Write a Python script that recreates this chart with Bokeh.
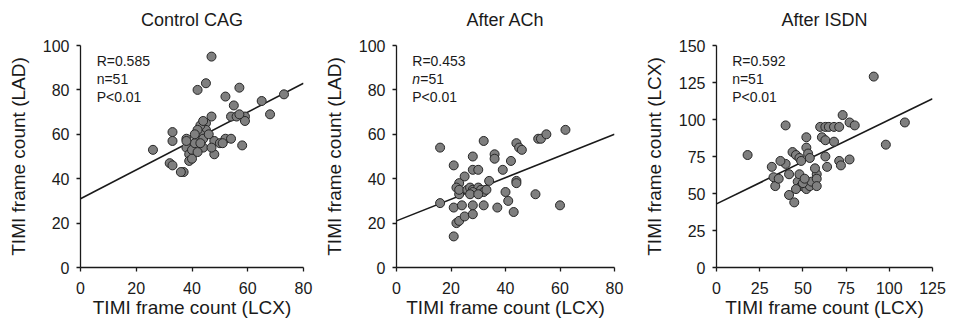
from bokeh.plotting import figure
from bokeh.layouts import row
from bokeh.models import Range1d, FixedTicker, ColumnDataSource, Title
from bokeh.core.properties import value
from bokeh.embed import file_html
from bokeh.resources import INLINE

# ---------------- data ----------------
titles = ["Control CAG", "After ACh", "After ISDN"]
x_label = "TIMI frame count (LCX)"
y_labels = ["TIMI frame count (LAD)", "TIMI frame count (LAD)", "TIMI frame count (LCX)"]

x_max = [80, 80, 125]
y_max = [100, 100, 150]
x_ticks = [[0, 20, 40, 60, 80], [0, 20, 40, 60, 80], [0, 25, 50, 75, 100, 125]]
y_ticks = [[0, 20, 40, 60, 80, 100], [0, 20, 40, 60, 80, 100], [0, 25, 50, 75, 100, 125, 150]]

r_text = ["R=0.585", "R=0.453", "R=0.592"]
n_text = ["n=51", "n=51", "n=51"]
p_text = ["P<0.01", "P<0.01", "P<0.01"]

# regression line: value at x=0 and at x=x_max
fit_start = [31, 21, 43]
fit_end = [83, 60, 114]

cag_x = [26, 47, 42, 45, 57, 52, 65, 73, 68, 55, 47, 54, 56, 59, 59, 33, 33, 32, 33, 37,
         48, 58, 52, 54, 48, 50, 51, 45, 45, 43, 43, 44, 42, 38, 38, 39, 39, 40, 41, 44,
         47, 38, 36, 42, 44, 40, 46, 42, 57, 41, 43]
cag_y = [53, 95, 80, 83, 81, 77, 75, 78, 69, 73, 68, 68, 68, 68, 66, 61, 57, 47, 46, 43,
         51, 55, 58, 58, 57, 56, 56, 65, 62, 60, 64, 54, 57, 58, 54, 51, 48, 53, 56, 58,
         54, 57, 43, 62, 66, 49, 60, 52, 69, 60, 56]

ach_x = [16, 16, 21, 21, 21, 22, 23, 25, 24, 25, 23, 22, 23, 23, 28, 28, 30, 28, 28, 32,
         32, 34, 36, 36, 37, 39, 40, 41, 42, 43, 44, 44, 44, 45, 46, 51, 52, 53, 55, 60,
         62, 26, 27, 28, 30, 31, 32, 33, 28, 27, 30]
ach_y = [54, 29, 46, 27, 14, 20, 21, 23, 28, 41, 38, 36, 33, 35, 50, 44, 44, 28, 24, 57,
         28, 39, 51, 49, 27, 44, 34, 30, 48, 25, 39, 38, 56, 54, 53, 33, 58, 58, 60, 28,
         62, 35, 36, 35, 36, 35, 34, 35, 34, 33, 33]

isdn_x = [18, 40, 91, 109, 98, 73, 77, 80, 60, 63, 65, 68, 71, 61, 63, 68, 63, 64, 71, 72,
          77, 52, 52, 53, 54, 44, 46, 48, 49, 40, 37, 32, 33, 34, 36, 42, 42, 45, 47, 49,
          52, 54, 50, 55, 58, 57, 58, 58, 48, 46, 51]
isdn_y = [76, 96, 129, 98, 83, 103, 98, 96, 95, 95, 95, 95, 95, 88, 86, 85, 75, 68, 72, 69,
          73, 88, 81, 77, 74, 78, 76, 74, 72, 70, 72, 68, 61, 55, 60, 63, 49, 44, 58, 55,
          53, 55, 57, 58, 63, 67, 60, 55, 63, 53, 60]

series_x = [cag_x, ach_x, isdn_x]
series_y = [cag_y, ach_y, isdn_y]

# ---------------- layout / style ----------------
FONT = "Liberation Sans"
INK = "#1a1a1a"
widths = [320, 320, 321]
border_left = [80, 76, 71]
border_right = [17, 26, 29]
border_top = [45, 44, 43]
border_bottom = [61, 62, 62]
italic_n = [False, True, False]


def panel(i):
    p = figure(width=widths[i], height=329, output_backend="svg", toolbar_location=None,
               x_range=Range1d(0, x_max[i]), y_range=Range1d(0, y_max[i]),
               min_border_left=border_left[i], min_border_right=border_right[i],
               min_border_top=border_top[i], min_border_bottom=border_bottom[i],
               title=titles[i])
    p.outline_line_color = None
    p.grid.visible = False
    p.background_fill_color = "white"
    p.border_fill_color = "white"

    p.title.text_font = FONT
    p.title.text_font_size = "18px"
    p.title.text_font_style = "normal"
    p.title.text_color = INK
    p.title.align = "center"

    # blank spacer between the frame and the title
    p.add_layout(Title(text=" ", text_font_size="8px", standoff=0), "above")

    for ax in (p.xaxis[0], p.yaxis[0]):
        ax.axis_line_color = INK
        ax.axis_line_width = 1.3
        ax.major_tick_line_color = INK
        ax.major_tick_line_width = 1.3
        ax.major_tick_in = 0
        ax.major_tick_out = 4
        ax.minor_tick_line_color = None
        ax.major_label_text_font = FONT
        ax.major_label_text_font_size = "16px"
        ax.major_label_text_color = INK
        ax.axis_label_text_font = FONT
        ax.axis_label_text_font_size = "19px"
        ax.axis_label_text_font_style = "normal"
        ax.axis_label_text_color = INK

    p.xaxis.ticker = FixedTicker(ticks=x_ticks[i])
    p.yaxis.ticker = FixedTicker(ticks=y_ticks[i])
    p.xaxis.axis_label = x_label
    p.yaxis.axis_label = y_labels[i]
    p.xaxis.major_label_standoff = 10
    p.yaxis.major_label_standoff = 7
    p.xaxis.axis_label_standoff = 0
    p.yaxis.axis_label_standoff = 11

    # regression line
    p.line([0, x_max[i]], [fit_start[i], fit_end[i]], line_color=INK, line_width=1.6)

    # points
    src = ColumnDataSource(dict(x=series_x[i], y=series_y[i]))
    p.scatter("x", "y", source=src, size=9, fill_color="#7f7f7f",
              line_color="#262626", line_width=1)

    # statistics annotation
    px_per_y = 223.0 / y_max[i]
    px_per_x = 221.0 / x_max[i]
    ax0 = 16 / px_per_x
    ytop = y_max[i] - 16 / px_per_y
    step = 18 / px_per_y
    common = dict(text_font=value(FONT), text_font_size="14px", text_color=INK,
                  text_baseline="middle", text_align="left")
    p.text(x=[ax0, ax0], y=[ytop, ytop - 2 * step], text=[r_text[i], p_text[i]], **common)
    if italic_n[i]:
        p.text(x=[ax0], y=[ytop - step], text=[n_text[i][0]], text_font_style="italic", **common)
        p.text(x=[ax0], y=[ytop - step], text=[n_text[i][1:]], x_offset=8, **common)
    else:
        p.text(x=[ax0], y=[ytop - step], text=[n_text[i]], **common)
    return p


layout = row([panel(0), panel(1), panel(2)], spacing=0)
open("out.html", "w").write(file_html(layout, INLINE))
